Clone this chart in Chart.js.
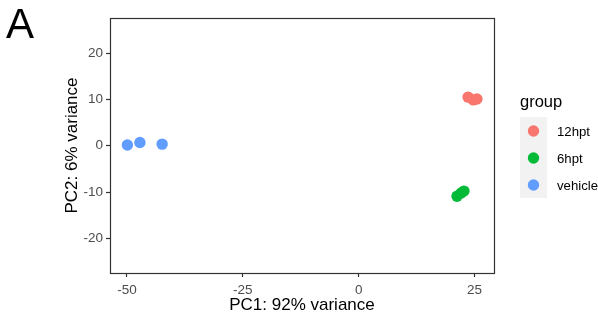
<!DOCTYPE html>
<html>
<head>
<meta charset="utf-8">
<script src="https://cdn.jsdelivr.net/npm/chart.js@4/dist/chart.umd.min.js"></script>
<style>
  html, body { margin: 0; padding: 0; background: #ffffff; }
  #wrap { width: 598px; height: 320px; position: relative; }
  canvas { display: block; }
</style>
</head>
<body>
<div id="wrap"><canvas id="c" width="598" height="320"></canvas></div>
<script>
// ---- data ----
const groups = ['12hpt', '6hpt', 'vehicle'];
const groupColors = ['#F8766D', '#00BA38', '#619CFF'];
const pc1_12hpt = [23.6, 24.7, 25.5];
const pc2_12hpt = [10.5, 9.9, 10.1];
const pc1_6hpt = [21.2, 22.1, 22.7];
const pc2_6hpt = [-10.9, -10.2, -9.8];
const pc1_vehicle = [-49.9, -47.2, -42.4];
const pc2_vehicle = [0.15, 0.7, 0.35];
const xTicks = [-50, -25, 0, 25];
const yTicks = [-20, -10, 0, 10, 20];
const xTitle = 'PC1: 92% variance';
const yTitle = 'PC2: 6% variance';
const legendTitle = 'group';
const panelLabel = 'A';

const pcX = [pc1_12hpt, pc1_6hpt, pc1_vehicle];
const pcY = [pc2_12hpt, pc2_6hpt, pc2_vehicle];

const FONT = "'Liberation Sans', Arial, Helvetica, sans-serif";

const datasets = groups.map((g, i) => ({
  label: g,
  data: pcX[i].map((x, k) => ({ x: x, y: pcY[i][k] })),
  backgroundColor: groupColors[i],
  borderWidth: 0,
  pointRadius: 5.7,
  pointHoverRadius: 5.7
}));

const boxPlugin = {
  id: 'panelBox',
  afterDraw(chart) {
    const ctx = chart.ctx;
    const a = chart.chartArea;
    ctx.save();
    ctx.strokeStyle = '#333333';
    ctx.lineWidth = 1.2;
    ctx.strokeRect(Math.round(a.left) + 0.5, Math.round(a.top) + 0.5,
                   Math.round(a.right - a.left), Math.round(a.bottom - a.top));
    // panel label
    ctx.fillStyle = '#000000';
    ctx.font = '42px ' + FONT;
    ctx.textAlign = 'left';
    ctx.textBaseline = 'alphabetic';
    ctx.fillText(panelLabel, 6, 38);
    // legend
    const lx = 520, ly = 117, lw = 27, step = 27;
    ctx.font = '16.5px ' + FONT;
    ctx.fillText(legendTitle, 520, 107);
    const n = chart.data.datasets.length;
    ctx.fillStyle = '#F2F2F2';
    ctx.fillRect(lx, ly, lw, step * n);
    ctx.font = '13.2px ' + FONT;
    ctx.textBaseline = 'middle';
    chart.data.datasets.forEach((ds, i) => {
      const cy = ly + step / 2 + i * step + 0.5;
      ctx.beginPath();
      ctx.fillStyle = ds.backgroundColor;
      ctx.arc(lx + lw / 2, cy, 5.7, 0, Math.PI * 2);
      ctx.fill();
      ctx.fillStyle = '#000000';
      ctx.fillText(ds.label, 557, cy + 1);
    });
    ctx.restore();
  }
};

new Chart(document.getElementById('c'), {
  type: 'scatter',
  data: { datasets: datasets },
  options: {
    responsive: false,
    animation: false,
    devicePixelRatio: 1,
    layout: { padding: { left: 0, top: 18, right: 104, bottom: 0 } },
    plugins: { legend: { display: false }, tooltip: { enabled: false }, title: { display: false } },
    scales: {
      x: {
        type: 'linear',
        min: -53.65, max: 29.18,
        afterBuildTicks: (s) => { s.ticks = xTicks.map(v => ({ value: v })); },
        afterFit: (s) => { s.height = 47; },
        grid: { drawOnChartArea: false, drawTicks: true, tickLength: 4, tickColor: '#333333', tickWidth: 1.2 },
        border: { display: false },
        ticks: { color: '#4D4D4D', font: { family: FONT, size: 13.5 }, padding: 5, maxRotation: 0 },
        title: { display: true, text: xTitle, color: '#000000', font: { family: FONT, size: 17 }, padding: { top: 0, bottom: 4 } }
      },
      y: {
        type: 'linear',
        min: -27.5, max: 27.6,
        afterBuildTicks: (s) => { s.ticks = yTicks.map(v => ({ value: v })); },
        afterFit: (s) => { s.width = 110; },
        grid: { drawOnChartArea: false, drawTicks: true, tickLength: 4, tickColor: '#333333', tickWidth: 1.2 },
        border: { display: false },
        ticks: { color: '#4D4D4D', font: { family: FONT, size: 13.5 }, padding: 3 },
        title: { display: true, text: yTitle, color: '#000000', font: { family: FONT, size: 17 }, padding: { top: 62, bottom: 0 } }
      }
    }
  },
  plugins: [boxPlugin]
});
</script>
</body>
</html>
